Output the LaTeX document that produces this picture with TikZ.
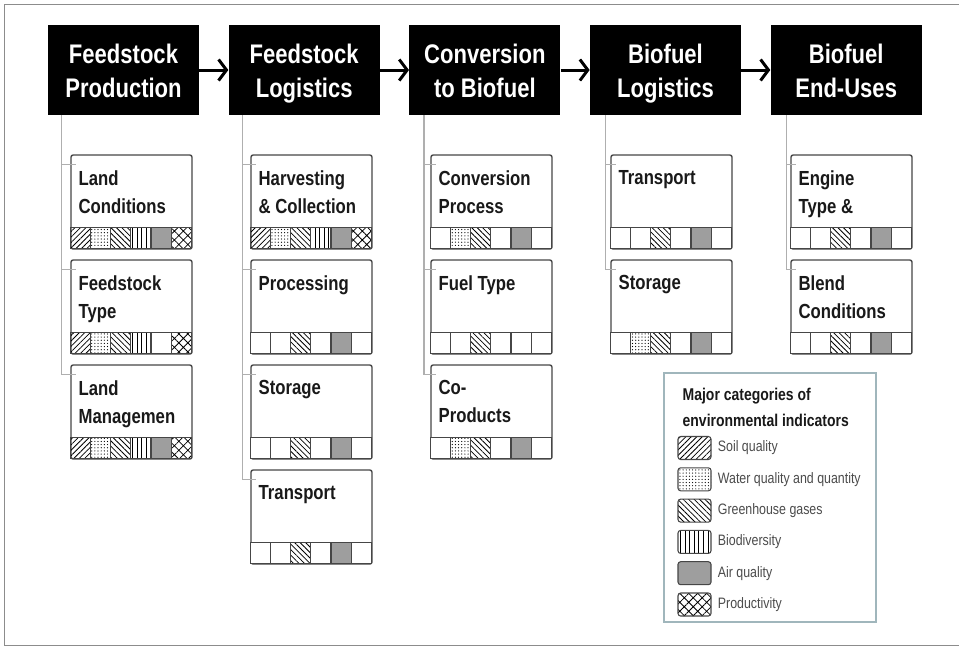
\documentclass[tikz,border=0pt]{standalone}
\usepackage{fontspec}
\setmainfont{Liberation Sans}[FakeStretch=0.82]
\usetikzlibrary{arrows.meta,patterns.meta,positioning}

\definecolor{linkgray}{RGB}{175,175,175}
\definecolor{boxgray}{RGB}{70,70,70}
\definecolor{legendblue}{RGB}{160,182,188}
\definecolor{framegray}{RGB}{140,140,140}

\tikzset{
  soil/.style={pattern={Lines[angle=45,distance=2.2pt,line width=0.45pt]}},
  water/.style={pattern={Dots[radius=0.35pt,distance=1.8pt]}},
  ghg/.style={pattern={Lines[angle=-45,distance=2.2pt,line width=0.45pt]}},
  biodiv/.style={pattern={Lines[angle=90,distance=2.6pt,line width=0.6pt]}},
  air/.style={fill=black!38},
  prod/.style={pattern={Hatch[angle=45,distance=3.6pt,line width=0.45pt]}},
  cellpat/.code={\ifcase#1\relax\tikzset{fill=white}\or\tikzset{soil}\or\tikzset{water}\or\tikzset{ghg}\or\tikzset{biodiv}\or\tikzset{air}\or\tikzset{prod}\fi}
}

\begin{document}
\begin{tikzpicture}[x=0.02cm,y=-0.02cm,node distance=0.58cm,
  hdr/.style={fill=black,text=white,minimum width=3.02cm,minimum height=1.8cm,inner sep=0pt,align=center,font=\fontsize{15.3}{19.8}\selectfont\bfseries,
    text height=31.8pt,text depth=0pt},
  sub/.style={draw=boxgray,line width=0.8pt,fill=white,rounded corners=1.2pt,minimum width=2.42cm,minimum height=1.88cm,inner sep=0pt},
  subtext/.style={anchor=north west,inner sep=0pt,align=left,text=black!90,font=\fontsize{11.6}{15.9}\selectfont\bfseries},
  flow/.style={line width=1.7pt,-{Straight Barb[length=4.5pt,width=12pt]}},
  link/.style={draw=linkgray,line width=0.8pt},
  cell/.style={draw=boxgray,line width=0.6pt},
  key/.style={draw=boxgray,line width=0.6pt,rounded corners=1.5pt,minimum width=0.66cm,minimum height=0.46cm,inner sep=0pt},
  keytext/.style={anchor=west,inner sep=0pt,text=black!70,font=\fontsize{8.6}{10}\selectfont}]

  \useasboundingbox (0,0) rectangle (959,647);
  \draw[framegray,line width=0.7pt] (959,4.5) -- (4.5,4.5) -- (4.5,645.5) -- (959,645.5);

  % stages
  \node[hdr] (fp) at (123.5,70) {Feedstock\\Production};
  \node[hdr] (fl) [right=of fp] {Feedstock\\Logistics};
  \node[hdr] (cb) [right=of fl] {Conversion\\to Biofuel};
  \node[hdr] (bl) [right=of cb] {Biofuel\\Logistics};
  \node[hdr] (be) [right=of bl] {Biofuel\\End-Uses};
  \draw[flow] (fp) -- (fl);
  \draw[flow] (fl) -- (cb);
  \draw[flow] (cb) -- (bl);
  \draw[flow] (bl) -- (be);

  % sub-steps
  \node[sub] (lc) at (131.5,202) {};
  \node[sub] (ft) at (131.5,307) {};
  \node[sub] (lm) at (131.5,412) {};
  \node[sub] (hc) at (311.5,202) {};
  \node[sub] (pr) at (311.5,307) {};
  \node[sub] (st) at (311.5,412) {};
  \node[sub] (tr) at (311.5,517) {};
  \node[sub] (cp) at (491.5,202) {};
  \node[sub] (fu) at (491.5,307) {};
  \node[sub] (co) at (491.5,412) {};
  \node[sub] (btr) at (671.5,202) {};
  \node[sub] (bst) at (671.5,307) {};
  \node[sub] (et) at (851.5,202) {};
  \node[sub] (bc) at (851.5,307) {};

  \node[subtext] (lc-t) at ([shift={(8,16)}]lc.north west) {Land\\Conditions};
  \node[subtext] (ft-t) at ([shift={(8,16)}]ft.north west) {Feedstock\\Type};
  \node[subtext] (lm-t) at ([shift={(8,16)}]lm.north west) {Land\\Managemen};
  \node[subtext] (hc-t) at ([shift={(8,16)}]hc.north west) {Harvesting\\\& Collection};
  \node[subtext] (pr-t) at ([shift={(8,16)}]pr.north west) {Processing};
  \node[subtext] (st-t) at ([shift={(8,16)}]st.north west) {Storage};
  \node[subtext] (tr-t) at ([shift={(8,16)}]tr.north west) {Transport};
  \node[subtext] (cp-t) at ([shift={(8,16)}]cp.north west) {Conversion\\Process};
  \node[subtext] (fu-t) at ([shift={(8,16)}]fu.north west) {Fuel Type};
  \node[subtext] (co-t) at ([shift={(8,16)}]co.north west) {Co-\\Products};
  \node[subtext] (btr-t) at ([shift={(8,16)}]btr.north west) {Transport};
  \node[subtext] (bst-t) at ([shift={(8,16)}]bst.north west) {Storage};
  \node[subtext] (et-t) at ([shift={(8,16)}]et.north west) {Engine\\Type \&};
  \node[subtext] (bc-t) at ([shift={(8,16)}]bc.north west) {Blend\\Conditions};

  % indicator strips
  \foreach \b/\l in {lc/{1,2,3,4,5,6},ft/{1,2,3,4,0,6},lm/{1,2,3,4,5,6},
                     hc/{1,2,3,4,5,6},pr/{0,0,3,0,5,0},st/{0,0,3,0,5,0},tr/{0,0,3,0,5,0},
                     cp/{0,2,3,0,5,0},fu/{0,0,3,0,0,0},co/{0,2,3,0,5,0},
                     btr/{0,0,3,0,5,0},bst/{0,2,3,0,5,0},
                     et/{0,0,3,0,5,0},bc/{0,0,3,0,5,0}}
    \foreach \c [count=\i from 0] in \l
      \draw[cell,cellpat=\c] ([shift={(\i*20.17,73)}]\b.north west) rectangle ([shift={(\i*20.17+20.17,94)}]\b.north west);

  % tree links
  \draw[link] ([shift={(14,0)}]fp.south west) |- ([shift={(6,10)}]lc.north west);
  \draw[link] ([shift={(14,0)}]fp.south west) |- ([shift={(6,10)}]ft.north west);
  \draw[link] ([shift={(14,0)}]fp.south west) |- ([shift={(6,10)}]lm.north west);
  \draw[link] ([shift={(14,0)}]fl.south west) |- ([shift={(6,10)}]hc.north west);
  \draw[link] ([shift={(14,0)}]fl.south west) |- ([shift={(6,10)}]pr.north west);
  \draw[link] ([shift={(14,0)}]fl.south west) |- ([shift={(6,10)}]st.north west);
  \draw[link] ([shift={(14,0)}]fl.south west) |- ([shift={(6,10)}]tr.north west);
  \draw[link] ([shift={(15,0)}]cb.south west) |- ([shift={(6,10)}]cp.north west);
  \draw[link] ([shift={(15,0)}]cb.south west) |- ([shift={(6,10)}]fu.north west);
  \draw[link] ([shift={(15,0)}]cb.south west) |- ([shift={(6,10)}]co.north west);
  \draw[link] ([shift={(16,0)}]bl.south west) |- ([shift={(6,10)}]btr.north west);
  \draw[link] ([shift={(16,0)}]bl.south west) |- ([shift={(6,10)}]bst.north west);
  \draw[link] ([shift={(16,0)}]be.south west) |- ([shift={(6,10)}]et.north west);
  \draw[link] ([shift={(16,0)}]be.south west) |- ([shift={(6,10)}]bc.north west);

  % legend
  \node[draw=legendblue,line width=0.8pt,fill=white,minimum width=4.24cm,minimum height=4.98cm,inner sep=0pt] (legend) at (770,497.5) {};
  \node[anchor=north west,inner sep=0pt,align=left,text=black!90,font=\fontsize{9.7}{15.3}\selectfont\bfseries] (legend-t) at ([shift={(19,15)}]legend.north west) {Major categories of\\environmental indicators};
  \foreach \c/\t [count=\i from 0] in {1/Soil quality,2/Water quality and quantity,3/Greenhouse gases,4/Biodiversity,5/Air quality,6/Productivity} {
    \node[key,cellpat=\c] (key\c) at (694.5,448+31.3*\i) {};
    \node[keytext] (key\c-t) at ([shift={(6,0)}]key\c.east) {\t};
  }
\end{tikzpicture}
\end{document}
